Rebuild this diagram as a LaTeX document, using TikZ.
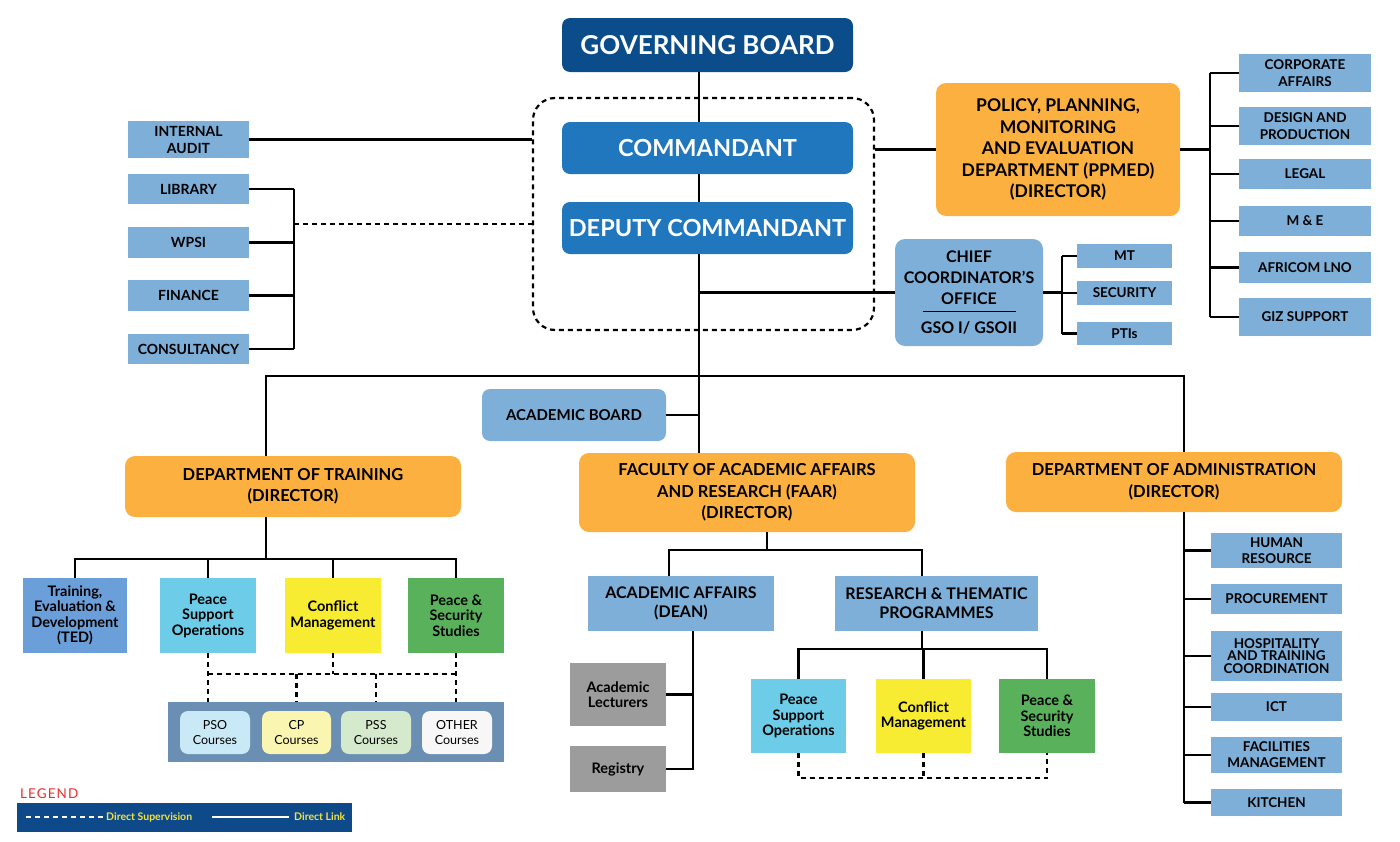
\documentclass[tikz,border=0pt]{standalone}
\usepackage{fontspec}
\setmainfont{Lato}
\usepackage{xcolor}
\definecolor{govnavy}{HTML}{0B4C8B}
\definecolor{cmdblue}{HTML}{2177BE}
\definecolor{unitblue}{HTML}{7DAFD8}
\definecolor{deptorange}{HTML}{FBB040}
\definecolor{tedblue}{HTML}{6A9FD9}
\definecolor{psocyan}{HTML}{6DCDE8}
\definecolor{cmyellow}{HTML}{F8EC33}
\definecolor{pssgreen}{HTML}{5AB15B}
\definecolor{staffgray}{HTML}{9C9C9C}
\definecolor{panelblue}{HTML}{6A8FB2}
\definecolor{psolight}{HTML}{C9E9F6}
\definecolor{cplight}{HTML}{FAF6B1}
\definecolor{psslight}{HTML}{D5E9CC}
\definecolor{otherlight}{HTML}{F7F7F7}
\definecolor{legendnavy}{HTML}{0E4A8A}
\definecolor{legendyellow}{HTML}{F5E23C}
\definecolor{legendred}{HTML}{EC2B2B}
\usetikzlibrary{calc}
\newcommand{\setfs}[2]{\fontsize{#1}{#2}\selectfont}

\begin{document}
\begin{tikzpicture}[x=1pt, y=-1pt,
  box/.style={align=center, inner sep=2pt, outer sep=0pt},
  sz/.style 2 args={minimum width=#1pt, minimum height=#2pt},
  unit/.style={box, fill=unitblue, font=\bfseries\setfs{13.5}{17}},
  dept/.style={box, fill=deptorange, rounded corners=10pt, font=\bfseries\setfs{16.5}{21.5}},
  cmd/.style={box, fill=cmdblue, rounded corners=8pt, text=white, font=\bfseries\setfs{23.5}{28}},
  wing/.style={box, font=\bfseries\setfs{14.5}{15.5}},
  course/.style={box, rounded corners=8pt, font=\setfs{12.5}{15}},
  link/.style={line width=2.2pt},
  superv/.style={line width=2.2pt, dash pattern=on 5pt off 4pt}]
  \useasboundingbox (0,0) rectangle (1400,841);

  % top of the chart
  \node[cmd, fill=govnavy, sz={291}{54}, font=\bfseries\setfs{26}{30}] (gb) at (707.5,45) {GOVERNING BOARD};
  \node[draw, superv, rounded corners=22pt, sz={341}{232}] (grp) at (703.5,214) {};
  \node[cmd, sz={291}{52}] (com) at (707.5,148) {COMMANDANT};
  \node[cmd, sz={291}{52}] (dep) at (707.5,228) {DEPUTY COMMANDANT};

  % units on the left
  \foreach \n/\y/\h/\txt in {audit/139.5/37/{INTERNAL\\AUDIT}, lib/189/30/LIBRARY,
      wpsi/242.5/31/WPSI, fin/295.5/31/FINANCE, cons/349/30/CONSULTANCY}
    \node[unit, sz={121}{\h}, font=\bfseries\setfs{14}{17}] (\n) at (188.5,\y) {\txt};

  % PPMED and its units
  \node[dept, sz={244}{133}, font=\bfseries\setfs{17.5}{21.5}] (ppmed) at (1058,149.5)
    {POLICY, PLANNING,\\MONITORING\\AND EVALUATION\\DEPARTMENT (PPMED)\\(DIRECTOR)};
  \foreach \n/\y/\h/\txt in {r1/73/38/{CORPORATE\\AFFAIRS}, r2/126/38/{DESIGN AND\\PRODUCTION},
      r3/174/30/LEGAL, r4/221/30/{M \& E}, r5/267.5/31/AFRICOM LNO, r6/317/38/GIZ SUPPORT}
    \node[unit, sz={132}{\h}] (\n) at (1305,\y) {\txt};

  % chief coordinator
  \node[unit, rounded corners=10pt, sz={148}{107}, font=\bfseries\setfs{16}{21}] (chief) at (969,292.5)
    {CHIEF\\COORDINATOR'S\\OFFICE\\[-13pt]\rule{93pt}{1.3pt}\\GSO I/ GSOII};
  \foreach \n/\y/\h/\txt in {c1/256/24/MT, c2/293/24/SECURITY, c3/333.5/23/PTIs}
    \node[unit, sz={95}{\h}, font=\bfseries\setfs{13.5}{15}] (\n) at (1124.5,\y) {\txt};

  \node[unit, rounded corners=8pt, sz={184}{52}, font=\bfseries\setfs{15}{17}] (ab) at (574,415) {ACADEMIC BOARD};

  % three directorates
  \node[dept, sz={336}{61}] (dot) at (293,486.5) {DEPARTMENT OF TRAINING\\(DIRECTOR)};
  \node[dept, sz={336}{79}] (faar) at (747,492.5) {FACULTY OF ACADEMIC AFFAIRS\\AND RESEARCH (FAAR)\\(DIRECTOR)};
  \node[dept, sz={336}{60}] (doa) at (1174,482) {DEPARTMENT OF ADMINISTRATION\\(DIRECTOR)};

  % training wings
  \node[wing, fill=tedblue, sz={104}{75}] (ted) at (75,615.5) {Training,\\Evaluation \&\\Development\\(TED)};
  \node[wing, fill=psocyan, sz={96}{75}] (pso) at (208,615.5) {Peace\\Support\\Operations};
  \node[wing, fill=cmyellow, sz={96}{75}] (cm) at (333,615.5) {Conflict\\Management};
  \node[wing, fill=pssgreen, sz={96}{75}] (pss) at (456,615.5) {Peace \&\\Security\\Studies};
  \node[box, fill=panelblue, sz={336}{60}] (panel) at (336,732) {};
  \node[course, fill=psolight, sz={70}{43}] (psoc) at (215,732.5) {PSO\\Courses};
  \node[course, fill=cplight, sz={69}{43}] (cpc) at (296.5,732.5) {CP\\Courses};
  \node[course, fill=psslight, sz={70}{43}] (pssc) at (376,732.5) {PSS\\Courses};
  \node[course, fill=otherlight, sz={70}{43}] (othc) at (457,732.5) {OTHER\\Courses};

  % faculty
  \node[unit, sz={186}{55}, font=\bfseries\setfs{16}{19}] (aa) at (681,603.5) {ACADEMIC AFFAIRS\\(DEAN)};
  \node[unit, sz={203}{55}, font=\bfseries\setfs{16}{19}] (rt) at (936.5,603.5) {RESEARCH \& THEMATIC\\PROGRAMMES};
  \node[wing, fill=staffgray, sz={96}{63}] (al) at (618,694.5) {Academic\\Lecturers};
  \node[wing, fill=staffgray, sz={96}{46}] (reg) at (618,769) {Registry};
  \node[wing, fill=psocyan, sz={95}{74}] (pso2) at (798.5,716) {Peace\\Support\\Operations};
  \node[wing, fill=cmyellow, sz={95}{74}] (cm2) at (923.5,716) {Conflict\\Management};
  \node[wing, fill=pssgreen, sz={96}{74}] (pss2) at (1047,716) {Peace \&\\Security\\Studies};

  % administration
  \foreach \n/\y/\h/\lead/\txt in {a1/550.5/35/16/{HUMAN\\RESOURCE}, a2/599/30/16/PROCUREMENT,
      a3/656/50/12.5/{HOSPITALITY\\AND TRAINING\\COORDINATION}, a4/707/28/16/ICT,
      a5/755/36/16/{FACILITIES\\MANAGEMENT}, a6/802.5/27/16/KITCHEN}
    \node[unit, sz={131}{\h}, font=\bfseries\setfs{13.5}{\lead}] (\n) at (1276.5,\y) {\txt};

  % connectors
  \coordinate (spine) at (699,376);
  \coordinate (busL) at (266,376);
  \coordinate (busR) at (1184,376);
  \draw[link] (gb.south -| spine) -- (com.north -| spine);
  \draw[link] (com.south -| spine) -- (dep.north -| spine);
  \draw[link] (dep.south -| spine) -- (faar.north -| spine);
  \draw[link] (chief.west -| spine) -- (chief.west);
  \draw[link] (busL |- dot.north) -- (busL) -- (busR) -- (busR |- doa.north);
  \draw[link] (ab.east) -- (ab.east -| spine);

  \draw[link] (audit.east) -- (audit.east -| grp.west);
  \coordinate (lbr) at (294,224);
  \foreach \n in {lib, wpsi, fin, cons}
    \draw[link] (\n.east) -- (\n.east -| lbr);
  \draw[link] (lbr |- lib.east) -- (lbr |- cons.east);
  \draw[superv] (lbr) -- (lbr -| grp.west);

  \draw[link] (grp.east |- ppmed.west) -- (ppmed.west);
  \coordinate (rbr) at (1210,150);
  \draw[link] (ppmed.east) -- (rbr |- ppmed.east);
  \draw[link] (rbr |- r1.west) -- (rbr |- r6.west);
  \foreach \n in {r1, r2, r3, r4, r5, r6}
    \draw[link] (\n.west) -- (\n.west -| rbr);

  \coordinate (cbr) at (1062,293);
  \draw[link] (chief.east) -- (chief.east -| cbr);
  \draw[link] (cbr |- c1.west) -- (cbr |- c3.west);
  \foreach \n in {c1, c2, c3}
    \draw[link] (\n.west) -- (\n.west -| cbr);

  \coordinate (tbus) at (266,559);
  \draw[link] (dot.south -| tbus) -- (tbus);
  \draw[link] (ted.north) -- (ted.north |- tbus) -- (pss.north |- tbus) -- (pss.north);
  \foreach \n in {pso, cm}
    \draw[link] (\n.north) -- (\n.north |- tbus);
  \coordinate (crsbus) at (330,674);
  \draw[superv] (pso.south) -- (pso.south |- panel.north);
  \draw[superv] (pss.south) -- (pss.south |- panel.north);
  \draw[superv] (pso.south |- crsbus) -- (pss.south |- crsbus);
  \draw[superv] (cm.south) -- (cm.south |- crsbus);
  \foreach \n in {cpc, pssc}
    \draw[superv] (\n.north |- crsbus) -- (\n.north |- panel.north);

  \coordinate (fbL) at (669,550);
  \coordinate (fbM) at (767,550);
  \coordinate (fbR) at (922,550);
  \draw[link] (faar.south -| fbM) -- (fbM);
  \draw[link] (fbL |- aa.north) -- (fbL) -- (fbR) -- (fbR |- rt.north);
  \coordinate (aasp) at (693,631);
  \draw[link] (aa.south -| aasp) |- (reg.east);
  \draw[link] (al.east) -- (al.east -| aasp);

  \coordinate (rbus) at (922,649);
  \coordinate (rdash) at (922,778);
  \draw[link] (rt.south -| rbus) -- (rbus);
  \draw[link] (pso2.north) -- (pso2.north |- rbus) -- (pss2.north |- rbus) -- (pss2.north);
  \draw[link] (cm2.north) -- (cm2.north |- rbus);
  \draw[superv] (pso2.south) -- (pso2.south |- rdash) -- (pss2.south |- rdash) -- (pss2.south);
  \draw[superv] (cm2.south) -- (cm2.south |- rdash);

  \draw[link] (doa.south -| busR) -- (busR |- a6.west);
  \foreach \n in {a1, a2, a3, a4, a5, a6}
    \draw[link] (\n.west) -- (\n.west -| busR);

  % legend
  \node[anchor=west, text=legendred, inner sep=0pt, font=\setfs{13.5}{15}\addfontfeature{LetterSpace=8}] (leghead) at (20,794) {LEGEND};
  \node[box, fill=legendnavy, sz={335}{29}] (legbar) at (184.5,817.5) {};
  \draw[line width=1.6pt, white, dash pattern=on 5pt off 4pt] (26,817) -- (104,817);
  \node[anchor=west, inner sep=0pt, text=legendyellow, font=\bfseries\setfs{10.5}{12}] (legsup) at (106,817) {Direct Supervision};
  \draw[line width=1.6pt, white] (212,817) -- (289,817);
  \node[anchor=west, inner sep=0pt, text=legendyellow, font=\bfseries\setfs{10.5}{12}] (leglink) at (294,817) {Direct Link};
\end{tikzpicture}
\end{document}
